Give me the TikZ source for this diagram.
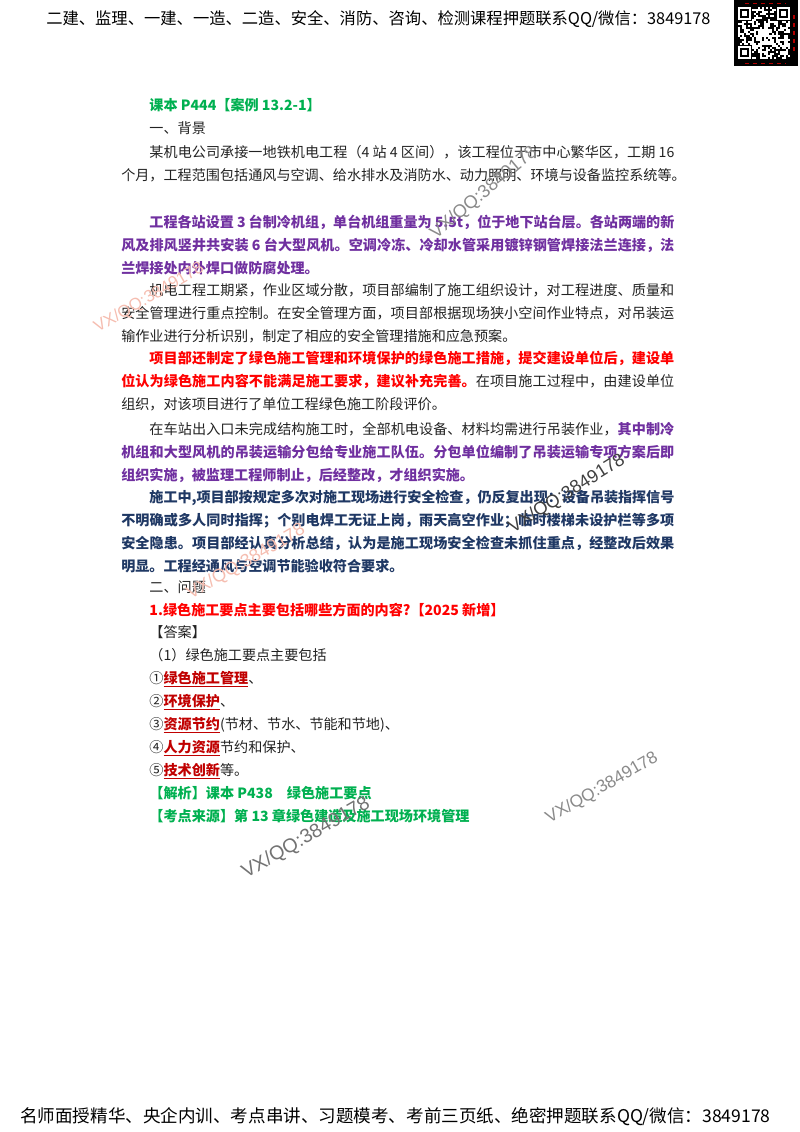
\documentclass[tikz,border=0pt]{standalone}
\usepackage{fontspec}
\usepackage{xcolor}
\setmainfont{Noto Sans CJK SC}
\newfontfamily\wmfont{Liberation Sans}
\XeTeXlinebreaklocale "zh"
\XeTeXlinebreakskip=0pt plus 1pt minus 0.25pt
\definecolor{ink}{HTML}{222222}
\definecolor{cgreen}{HTML}{00B050}
\definecolor{cpurple}{HTML}{7030A0}
\definecolor{cred}{HTML}{FF0000}
\definecolor{cnavy}{HTML}{1F3864}
\definecolor{ckey}{HTML}{C00000}
\definecolor{wmgray}{HTML}{8A8A8A}
\definecolor{wmred}{HTML}{F5BDB0}
\newcommand{\keyword}[1]{\textcolor{ckey}{\bfseries\underline{#1}}}
\tikzset{
  para/.style={inner sep=0pt, text width=411.5pt, align=justify, text=ink, anchor=north west,
    font=\fontsize{10.5pt}{17.06pt}\selectfont, execute at begin node={\strut\hspace*{2em}}, execute at end node={\strut}},
  strong/.style={para, font=\fontsize{10.5pt}{17.06pt}\selectfont\bfseries},
  head/.style={inner sep=0pt, text=black, anchor=base west},
  wm/.style={inner sep=0pt, font=\wmfont\fontsize{13.5pt}{14pt}\selectfont, text=wmgray},
}
\begin{document}
\begin{tikzpicture}[x=0.744pt, y=-0.744pt]
\useasboundingbox (0,0) rectangle (800,1132);
% header and footer
\node[head, font=\fontsize{12.13pt}{14pt}\selectfont] (header) at (46,24) {二建、监理、一建、一造、二造、安全、消防、咨询、检测课程押题联系QQ/微信：3849178};
\node[head, font=\fontsize{13.06pt}{15pt}\selectfont] (footer) at (20,1122) {名师面授精华、央企内训、考点串讲、习题模考、考前三页纸、绝密押题联系QQ/微信：3849178};
% qr code
\fill[black] (734,0) rectangle (798,66);
\pgfmathsetseed{3849}
\foreach \i in {0,...,25} \foreach \j in {0,...,25} {
  \pgfmathparse{rnd>0.5 ? 1 : 0}
  \ifnum\pgfmathresult=1
    \fill[white] ({738+2*\i},{7+2*\j}) rectangle +(2,2);
  \fi
}
\foreach \cx/\cy in {738/7, 777/7, 738/46} {
  \fill[black] (\cx-1,\cy-1) rectangle +(15,15);
  \fill[white] (\cx,\cy) rectangle +(13,13);
  \fill[black] (\cx+2,\cy+2) rectangle +(9,9);
  \fill[white] (\cx+4,\cy+4) rectangle +(5,5);
}
\fill[white] (759,29) rectangle +(10,8);
\draw[red!70!black, dashed, line width=0.6pt] (745,3) -- (786,3);
\draw[red!70!black, dashed, line width=0.6pt] (745,63) -- (786,63);
\draw[red!70!black, dashed, line width=0.8pt] (794,15) -- (794,52);
% body text
\node[strong, text=cgreen] (title) at (121,94) {课本 P444【案例 13.2-1】};
\node[para] (bghead) at (121,117) {一、背景};
\node[para] (p1) at (121,141) {某机电公司承接一地铁机电工程（4 站 4 区间），该工程位于市中心繁华区，工期 16\linebreak\mbox{个月，工程范围包括通风与空调、给水排水及消防水、动力照明、环境与设备监控系统等。}};
\node[strong, text=cpurple] (p2) at (121,211) {工程各站设置 3 台制冷机组，单台机组重量为 5.5t，位于地下站台层。各站两端的新\linebreak 风及排风竖井共安装 6 台大型风机。空调冷冻、冷却水管采用镀锌钢管焊接法兰连接，法\linebreak 兰焊接处内外焊口做防腐处理。};
\node[para] (p3) at (121,279) {机电工程工期紧，作业区域分散，项目部编制了施工组织设计，对工程进度、质量和\linebreak 安全管理进行重点控制。在安全管理方面，项目部根据现场狭小空间作业特点，对吊装运\linebreak 输作业进行分析识别，制定了相应的安全管理措施和应急预案。};
\node[para] (p4) at (121,347) {\textcolor{cred}{\bfseries 项目部还制定了绿色施工管理和环境保护的绿色施工措施，提交建设单位后，建设单\linebreak 位认为绿色施工内容不能满足施工要求，建议补充完善。}在项目施工过程中，由建设单位\linebreak 组织，对该项目进行了单位工程绿色施工阶段评价。};
\node[para] (p5) at (121,418) {在车站出入口未完成结构施工时，全部机电设备、材料均需进行吊装作业，\textcolor{cpurple}{\bfseries 其中制冷\linebreak 机组和大型风机的吊装运输分包给专业施工队伍。分包单位编制了吊装运输专项方案后即\linebreak 组织实施，被监理工程师制止，后经整改，才组织实施。}};
\node[strong, text=cnavy] (p6) at (121,486) {施工中,项目部按规定多次对施工现场进行安全检查，仍反复出现：设备吊装指挥信号\linebreak 不明确或多人同时指挥；个别电焊工无证上岗，雨天高空作业；临时楼梯未设护栏等多项\linebreak 安全隐患。项目部经认真分析总结，认为是施工现场安全检查未抓住重点，经整改后效果\linebreak 明显。工程经通风与空调节能验收符合要求。};
\node[para] (qhead) at (121,576) {二、问题};
\node[strong, text=cred] (q1) at (121,599) {1.绿色施工要点主要包括哪些方面的内容?【2025 新增】};
\node[para] (ans) at (121,621) {【答案】};
\node[para] (a0) at (121,644) {（1）绿色施工要点主要包括};
\node[para] (a1) at (121,667) {①\keyword{绿色施工管理}、};
\node[para] (a2) at (121,690) {②\keyword{环境保护}、};
\node[para] (a3) at (121,713) {③\keyword{资源节约}(节材、节水、节能和节地)、};
\node[para] (a4) at (121,736) {④\keyword{人力资源}节约和保护、};
\node[para] (a5) at (121,759) {⑤\keyword{技术创新}等。};
\node[strong, text=cgreen] (note) at (121,782) {【解析】课本 P438\hspace{1em}绿色施工要点};
\node[strong, text=cgreen] (src) at (121,805) {【考点来源】第 13 章绿色建造及施工现场环境管理};
% watermarks
\node[wm, rotate=40] (wm1) at (484,193) {VX/QQ:3849178};
\node[wm, rotate=30, text=wmred, font=\wmfont\fontsize{12.5pt}{14pt}\selectfont] (wm2) at (149,298) {VX/QQ:3849178};
\node[wm, rotate=32, text=black!75] (wm3) at (567,494) {VX/QQ:3849178};
\node[wm, rotate=30, text=wmred] (wm4) at (246,562) {VX/QQ:3849178};
\node[wm, rotate=30, font=\wmfont\fontsize{12.8pt}{14pt}\selectfont] (wm5) at (602,788) {VX/QQ:3849178};
\node[wm, rotate=30, font=\wmfont\fontsize{14.6pt}{15pt}\selectfont, text=black!55] (wm6) at (306,838) {VX/QQ:3849178};
\end{tikzpicture}
\end{document}
